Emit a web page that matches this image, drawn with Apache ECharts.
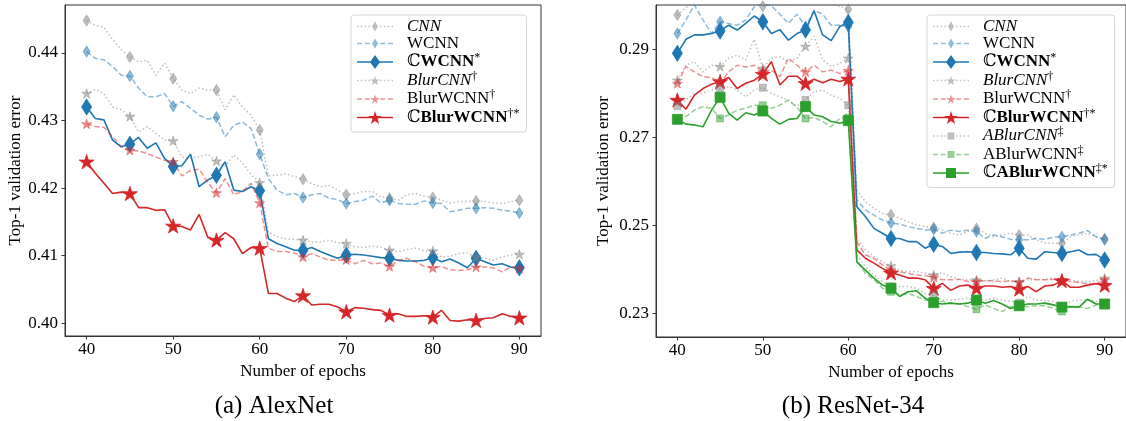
<!DOCTYPE html>
<html>
<head>
<meta charset="utf-8">
<script src="https://cdn.jsdelivr.net/npm/echarts@6/dist/echarts.min.js"></script>
<style>
  html, body { margin: 0; padding: 0; background: #fff; }
  #chart { width: 1126px; height: 421px; }
</style>
</head>
<body>
<div id="chart"></div>
<script>
// Training epochs on the x axis
const epochs = [40,41,42,43,44,45,46,47,48,49,50,51,52,53,54,55,56,57,58,59,60,
  61,62,63,64,65,66,67,68,69,70,71,72,73,74,75,76,77,78,79,80,
  81,82,83,84,85,86,87,88,89,90];
const epochTicks = [40, 50, 60, 70, 80, 90];
const alexTicks = [0.40, 0.41, 0.42, 0.43, 0.44];
const resTicks = [0.23, 0.25, 0.27, 0.29];

// AlexNet, top-1 validation error per epoch
const alexCNN = [0.4448,0.4441,0.4438,0.4420,0.4405,0.4394,0.4387,0.4389,0.4367,0.4385,
  0.4362,0.4345,0.4340,0.4348,0.4345,0.4345,0.4316,0.4338,0.4320,0.4308,
  0.4286,0.4218,0.4219,0.4221,0.4217,0.4213,0.4207,0.4202,0.4204,0.4197,
  0.4190,0.4192,0.4195,0.4195,0.4187,0.4185,0.4182,0.4190,0.4192,0.4188,
  0.4186,0.4182,0.4178,0.4180,0.4180,0.4181,0.4180,0.4178,0.4177,0.4180,0.4182];
const alexWCNN = [0.4402,0.4392,0.4390,0.4380,0.4367,0.4366,0.4348,0.4335,0.4335,0.4340,
  0.4321,0.4328,0.4318,0.4308,0.4302,0.4305,0.4276,0.4293,0.4298,0.4288,
  0.4250,0.4214,0.4197,0.4190,0.4192,0.4186,0.4190,0.4192,0.4185,0.4183,
  0.4177,0.4180,0.4182,0.4188,0.4178,0.4182,0.4177,0.4176,0.4176,0.4181,
  0.4178,0.4177,0.4165,0.4167,0.4170,0.4170,0.4171,0.4170,0.4167,0.4166,0.4163];
const alexCWCNN = [0.4320,0.4303,0.4301,0.4271,0.4261,0.4265,0.4275,0.4259,0.4267,0.4244,
  0.4232,0.4233,0.4250,0.4202,0.4212,0.4219,0.4239,0.4197,0.4195,0.4202,
  0.4196,0.4125,0.4118,0.4113,0.4108,0.4108,0.4112,0.4106,0.4101,0.4096,
  0.4101,0.4102,0.4101,0.4099,0.4097,0.4096,0.4093,0.4092,0.4092,0.4093,
  0.4097,0.4091,0.4095,0.4089,0.4082,0.4096,0.4091,0.4086,0.4088,0.4083,0.4082];
const alexBlurCNN = [0.4340,0.4346,0.4340,0.4320,0.4316,0.4306,0.4283,0.4291,0.4281,0.4271,
  0.4270,0.4246,0.4244,0.4246,0.4250,0.4240,0.4232,0.4249,0.4237,0.4220,
  0.4208,0.4135,0.4128,0.4125,0.4124,0.4123,0.4120,0.4120,0.4123,0.4119,
  0.4118,0.4113,0.4112,0.4114,0.4112,0.4108,0.4106,0.4109,0.4111,0.4107,
  0.4107,0.4098,0.4099,0.4103,0.4104,0.4098,0.4096,0.4093,0.4098,0.4101,0.4102];
const alexBlurWCNN = [0.4295,0.4291,0.4290,0.4276,0.4261,0.4256,0.4255,0.4251,0.4246,0.4241,
  0.4239,0.4218,0.4226,0.4228,0.4208,0.4193,0.4214,0.4190,0.4195,0.4207,
  0.4178,0.4111,0.4106,0.4106,0.4104,0.4098,0.4103,0.4098,0.4093,0.4093,
  0.4094,0.4088,0.4093,0.4088,0.4089,0.4084,0.4093,0.4096,0.4091,0.4084,
  0.4082,0.4084,0.4079,0.4078,0.4079,0.4083,0.4083,0.4082,0.4076,0.4083,0.4081];
const alexCBlurWCNN = [0.4239,0.4222,0.4207,0.4192,0.4194,0.4192,0.4171,0.4171,0.4167,0.4168,
  0.4144,0.4143,0.4138,0.4161,0.4127,0.4123,0.4134,0.4125,0.4103,0.4112,
  0.4111,0.4044,0.4044,0.4037,0.4032,0.4041,0.4027,0.4028,0.4028,0.4024,
  0.4017,0.4023,0.4022,0.4020,0.4019,0.4012,0.4014,0.4010,0.4010,0.4011,
  0.4009,0.4019,0.4004,0.4003,0.4005,0.4004,0.4007,0.4008,0.4014,0.4010,0.4008];

// ResNet-34, top-1 validation error per epoch
const resCNN = [0.2978,0.2995,0.3012,0.3006,0.3015,0.3010,0.3018,0.3004,0.3012,0.3006,
  0.2998,0.3004,0.3014,0.3002,0.3010,0.3016,0.3005,0.3012,0.3004,0.2998,
  0.2991,0.2580,0.2554,0.2539,0.2527,0.2524,0.2516,0.2508,0.2501,0.2497,
  0.2495,0.2489,0.2482,0.2478,0.2486,0.2493,0.2482,0.2474,0.2478,0.2482,
  0.2478,0.2478,0.2468,0.2459,0.2459,0.2459,0.2474,0.2478,0.2482,0.2474,0.2470];
const resWCNN = [0.2936,0.2967,0.3001,0.2967,0.2936,0.2963,0.2959,0.2955,0.2967,0.2997,
  0.3005,0.2999,0.2980,0.2959,0.2980,0.2952,0.2989,0.2980,0.2955,0.2955,
  0.2952,0.2558,0.2535,0.2523,0.2512,0.2505,0.2503,0.2497,0.2493,0.2489,
  0.2491,0.2482,0.2489,0.2486,0.2489,0.2486,0.2470,0.2478,0.2474,0.2468,
  0.2467,0.2467,0.2470,0.2468,0.2473,0.2474,0.2478,0.2482,0.2488,0.2474,0.2467];
const resCWCNN = [0.2891,0.2923,0.2933,0.2933,0.2936,0.2942,0.2955,0.2944,0.2959,0.2976,
  0.2963,0.2936,0.2945,0.2921,0.2936,0.2944,0.2988,0.2933,0.2920,0.2952,
  0.2961,0.2542,0.2520,0.2493,0.2482,0.2470,0.2470,0.2463,0.2463,0.2448,
  0.2457,0.2452,0.2436,0.2439,0.2440,0.2438,0.2438,0.2436,0.2435,0.2433,
  0.2448,0.2425,0.2423,0.2440,0.2438,0.2436,0.2440,0.2444,0.2433,0.2434,0.2421];
const resBlurCNN = [0.2830,0.2864,0.2872,0.2849,0.2864,0.2861,0.2880,0.2887,0.2876,0.2923,
  0.2857,0.2880,0.2883,0.2872,0.2880,0.2907,0.2930,0.2876,0.2861,0.2868,
  0.2880,0.2470,0.2444,0.2429,0.2417,0.2408,0.2398,0.2395,0.2395,0.2391,
  0.2387,0.2392,0.2383,0.2377,0.2376,0.2376,0.2374,0.2376,0.2380,0.2372,
  0.2372,0.2376,0.2377,0.2377,0.2380,0.2376,0.2376,0.2372,0.2372,0.2374,0.2380];
const resBlurWCNN = [0.2823,0.2861,0.2849,0.2838,0.2836,0.2823,0.2849,0.2864,0.2860,0.2864,
  0.2849,0.2853,0.2838,0.2880,0.2864,0.2849,0.2864,0.2849,0.2853,0.2845,
  0.2852,0.2463,0.2433,0.2425,0.2410,0.2398,0.2394,0.2391,0.2387,0.2385,
  0.2382,0.2376,0.2376,0.2377,0.2372,0.2372,0.2374,0.2374,0.2372,0.2374,
  0.2370,0.2380,0.2376,0.2376,0.2377,0.2377,0.2372,0.2370,0.2367,0.2368,0.2376];
const resCBlurWCNN = [0.2785,0.2764,0.2796,0.2811,0.2821,0.2827,0.2836,0.2811,0.2823,0.2830,
  0.2844,0.2872,0.2819,0.2839,0.2839,0.2823,0.2832,0.2824,0.2832,0.2827,
  0.2833,0.2444,0.2425,0.2414,0.2402,0.2392,0.2387,0.2380,0.2380,0.2376,
  0.2357,0.2368,0.2352,0.2362,0.2364,0.2357,0.2362,0.2362,0.2359,0.2361,
  0.2355,0.2361,0.2349,0.2362,0.2364,0.2374,0.2359,0.2359,0.2364,0.2367,0.2364];
const resABlurCNN = [0.2771,0.2785,0.2800,0.2800,0.2808,0.2811,0.2815,0.2808,0.2792,0.2808,
  0.2813,0.2800,0.2792,0.2784,0.2771,0.2785,0.2804,0.2808,0.2796,0.2789,
  0.2773,0.2433,0.2406,0.2387,0.2372,0.2361,0.2361,0.2361,0.2357,0.2345,
  0.2340,0.2330,0.2330,0.2332,0.2334,0.2330,0.2330,0.2334,0.2330,0.2327,
  0.2324,0.2338,0.2330,0.2329,0.2327,0.2315,0.2327,0.2330,0.2330,0.2327,0.2323];
const resABlurWCNN = [0.2741,0.2747,0.2762,0.2770,0.2766,0.2743,0.2751,0.2762,0.2766,0.2773,
  0.2773,0.2766,0.2773,0.2785,0.2768,0.2743,0.2745,0.2736,0.2724,0.2743,
  0.2745,0.2421,0.2391,0.2376,0.2357,0.2349,0.2342,0.2345,0.2338,0.2330,
  0.2327,0.2327,0.2323,0.2321,0.2315,0.2309,0.2319,0.2311,0.2304,0.2315,
  0.2317,0.2315,0.2317,0.2317,0.2311,0.2304,0.2315,0.2315,0.2311,0.2319,0.2321];
const resCABlurWCNN = [0.2741,0.2730,0.2728,0.2724,0.2762,0.2791,0.2755,0.2739,0.2756,0.2751,
  0.2760,0.2743,0.2730,0.2741,0.2743,0.2770,0.2751,0.2747,0.2736,0.2732,
  0.2738,0.2417,0.2398,0.2380,0.2364,0.2357,0.2338,0.2349,0.2351,0.2334,
  0.2324,0.2321,0.2323,0.2321,0.2323,0.2330,0.2323,0.2329,0.2321,0.2311,
  0.2317,0.2321,0.2321,0.2323,0.2319,0.2314,0.2315,0.2314,0.2332,0.2321,0.2321];

const FONT = '"Liberation Serif", "DejaVu Serif", serif';

// ---- marker shapes -------------------------------------------------------
function starPath(cx, cy, R) {
  const r = R * 0.381966;
  let d = '';
  for (let k = 0; k < 10; k++) {
    const a = -Math.PI / 2 + k * Math.PI / 5;
    const rad = k % 2 ? r : R;
    d += (k ? 'L' : 'M') + (cx + rad * Math.cos(a)).toFixed(2) + ' ' + (cy + rad * Math.sin(a)).toFixed(2) + ' ';
  }
  return d + 'Z';
}
const STAR = 'path://' + starPath(10, 10, 10);

// legend glyph: a line pattern 36 wide plus the marker centred on it
function legendLine(dash, n) {
  if (!dash) return 'M0 6.25H36V7.75H0Z';
  let d = '';
  const step = (36 - dash) / (n - 1);
  for (let i = 0; i < n; i++) {
    const x0 = i * step, x1 = x0 + dash;
    d += 'M' + x0.toFixed(2) + ' 6.25H' + x1.toFixed(2) + 'V7.75H' + x0.toFixed(2) + 'Z';
  }
  return d;
}
function legendMarker(kind, s) {
  if (kind === 'diamond') {
    const a = s[0] / 2, b = s[1] / 2;
    return 'M18 ' + (7 - b) + 'L' + (18 + a) + ' 7L18 ' + (7 + b) + 'L' + (18 - a) + ' 7Z';
  }
  if (kind === 'star') return starPath(18, 7.6, s / 2 + 0.6);
  const h = s / 2;
  return 'M' + (18 - h) + ' ' + (7 - h) + 'H' + (18 + h) + 'V' + (7 + h) + 'H' + (18 - h) + 'Z';
}

// ---- styles ---------------------------------------------------------------
const GRAY = 'rgba(128,128,128,0.5)';
const DOT = [1.5, 2.4];
const DASH = [5.5, 2.5];
const styles = {
  'CNN':          { color: GRAY, dash: DOT, kind: 'diamond', size: [7, 11], lg: [6, 10], pat: [1.5, 10] },
  'WCNN':         { color: 'rgba(31,119,180,0.5)', dash: DASH, kind: 'diamond', size: [7, 11], lg: [6, 10], pat: [5, 5] },
  'ℂWCNN*':       { color: '#1f77b4', dash: 'solid', kind: 'diamond', size: [10, 16], lg: [10, 14], pat: null },
  'BlurCNN†':     { color: GRAY, dash: DOT, kind: 'star', size: 10, lg: 9, pat: [1.5, 10] },
  'BlurWCNN†':    { color: 'rgba(214,39,40,0.5)', dash: DASH, kind: 'star', size: 10, lg: 9, pat: [5, 5] },
  'ℂBlurWCNN†*':  { color: '#d62728', dash: 'solid', kind: 'star', size: 15, lg: 13, pat: null },
  'ABlurCNN‡':    { color: GRAY, dash: DOT, kind: 'square', size: 7, lg: 7, pat: [1.5, 10] },
  'ABlurWCNN‡':   { color: 'rgba(44,160,44,0.5)', dash: DASH, kind: 'square', size: 7, lg: 7, pat: [5, 5] },
  'ℂABlurWCNN‡*': { color: '#2ca02c', dash: 'solid', kind: 'square', size: 10, lg: 10, pat: null }
};
const symbolOf = { diamond: 'diamond', star: STAR, square: 'rect' };

const legendLabel = {
  'CNN': '{g| }{it|CNN}',
  'WCNN': '{g| }{rm|WCNN}',
  'ℂWCNN*': '{g| }{rm|ℂ}{bf|WCNN}{sup|*}',
  'BlurCNN†': '{g| }{it|BlurCNN}{sup|†}',
  'BlurWCNN†': '{g| }{rm|BlurWCNN}{sup|†}',
  'ℂBlurWCNN†*': '{g| }{rm|ℂ}{bf|BlurWCNN}{sup|†*}',
  'ABlurCNN‡': '{g| }{it|ABlurCNN}{sup|‡}',
  'ABlurWCNN‡': '{g| }{rm|ABlurWCNN}{sup|‡}',
  'ℂABlurWCNN‡*': '{g| }{rm|ℂ}{bf|ABlurWCNN}{sup|‡*}'
};

function makeSeries(name, values, idx) {
  const st = styles[name];
  const solid = st.dash === 'solid';
  return {
    type: 'line', name: name, xAxisIndex: idx, yAxisIndex: idx,
    data: epochs.map((e, i) => [e, values[i]]),
    symbol: symbolOf[st.kind], symbolKeepAspect: true,
    symbolSize: (v) => (v[0] % 5 === 0 ? st.size : 0),
    showSymbol: true, clip: true, animation: false,
    lineStyle: { color: st.color, width: solid ? 1.6 : 1.5, type: st.dash, cap: 'butt' },
    itemStyle: { color: st.color, borderColor: st.color, borderWidth: 0.8 },
    emphasis: { disabled: true }
  };
}

function legendItem(name) {
  const st = styles[name];
  const line = st.pat ? legendLine(st.pat[0], st.pat[1]) : legendLine(0);
  return { name: name, icon: 'path://' + line + legendMarker(st.kind, st.lg) };
}

const rich = {
  g: { width: 9, fontSize: 17, lineHeight: 20 },
  rm: { fontFamily: FONT, fontSize: 17, lineHeight: 20, color: '#000' },
  it: { fontFamily: FONT, fontSize: 17, lineHeight: 20, color: '#000', fontStyle: 'italic' },
  bf: { fontFamily: FONT, fontSize: 17, lineHeight: 20, color: '#000', fontWeight: 'bold' },
  sup: { fontFamily: FONT, fontSize: 12, lineHeight: 12, color: '#000', verticalAlign: 'top' }
};

function makeLegend(names, left) {
  return {
    orient: 'vertical', left: left, top: 15,
    itemWidth: 36, itemHeight: 14, itemGap: 0, symbolKeepAspect: true,
    padding: [3, 7, 6, 6],
    backgroundColor: '#fff', borderColor: '#d6d6d6', borderWidth: 1, borderRadius: 3,
    selectedMode: false,
    itemStyle: { borderWidth: 0 },
    data: names.map(legendItem),
    formatter: (n) => legendLabel[n],
    textStyle: { rich: rich, fontFamily: FONT, fontSize: 17 }
  };
}

function xAxis(idx) {
  return {
    type: 'value', gridIndex: idx, min: 37.5, max: 92.5,
    name: 'Number of epochs', nameLocation: 'middle', nameGap: 24,
    nameTextStyle: { fontFamily: FONT, fontSize: 17, color: '#000' },
    axisLine: { show: true, onZero: false, lineStyle: { color: '#333', width: 1 } },
    axisTick: { show: true, length: 3.5, customValues: epochTicks, lineStyle: { color: '#333' } },
    axisLabel: { customValues: epochTicks, fontFamily: FONT, fontSize: 17, color: '#000', margin: 5 },
    splitLine: { show: false }
  };
}
function yAxis(idx, min, max, ticks, gap) {
  return {
    type: 'value', gridIndex: idx, min: min, max: max,
    name: 'Top-1 validation error', nameLocation: 'middle', nameGap: gap,
    nameTextStyle: { fontFamily: FONT, fontSize: 17, color: '#000' },
    axisLine: { show: true, onZero: false, lineStyle: { color: '#333', width: 1 } },
    axisTick: { show: true, length: 3.5, customValues: ticks, lineStyle: { color: '#333' } },
    axisLabel: { customValues: ticks, fontFamily: FONT, fontSize: 17, color: '#000', margin: 7,
                 formatter: (v) => v.toFixed(2) },
    splitLine: { show: false }
  };
}

const alexNames = ['CNN', 'WCNN', 'ℂWCNN*', 'BlurCNN†', 'BlurWCNN†', 'ℂBlurWCNN†*'];
const resNames = alexNames.concat(['ABlurCNN‡', 'ABlurWCNN‡', 'ℂABlurWCNN‡*']);
const alexValues = [alexCNN, alexWCNN, alexCWCNN, alexBlurCNN, alexBlurWCNN, alexCBlurWCNN];
const resValues = [resCNN, resWCNN, resCWCNN, resBlurCNN, resBlurWCNN, resCBlurWCNN,
  resABlurCNN, resABlurWCNN, resCABlurWCNN];

const chart = echarts.init(document.getElementById('chart'), null, { renderer: 'canvas' });
chart.setOption({
  animation: false,
  backgroundColor: '#fff',
  grid: [
    { left: 65, top: 5, width: 476, height: 331, show: true, borderColor: '#333', borderWidth: 1 },
    { left: 656, top: 5, width: 475, height: 332, show: true, borderColor: '#333', borderWidth: 1 }
  ],
  xAxis: [xAxis(0), xAxis(1)],
  yAxis: [yAxis(0, 0.3981, 0.4471, alexTicks, 40), yAxis(1, 0.2246, 0.3001, resTicks, 44)],
  legend: [makeLegend(alexNames, 351), makeLegend(resNames, 927)],
  series: alexNames.map((n, i) => makeSeries(n, alexValues[i], 0))
    .concat(resNames.map((n, i) => makeSeries(n, resValues[i], 1))),
  graphic: [
    { type: 'text', x: 274, y: 406, style: { text: '(a) AlexNet', font: '25px ' + FONT, fill: '#000', textAlign: 'center', textVerticalAlign: 'middle' } },
    { type: 'text', x: 853, y: 406, style: { text: '(b) ResNet-34', font: '25px ' + FONT, fill: '#000', textAlign: 'center', textVerticalAlign: 'middle' } }
  ]
});
</script>
</body>
</html>
